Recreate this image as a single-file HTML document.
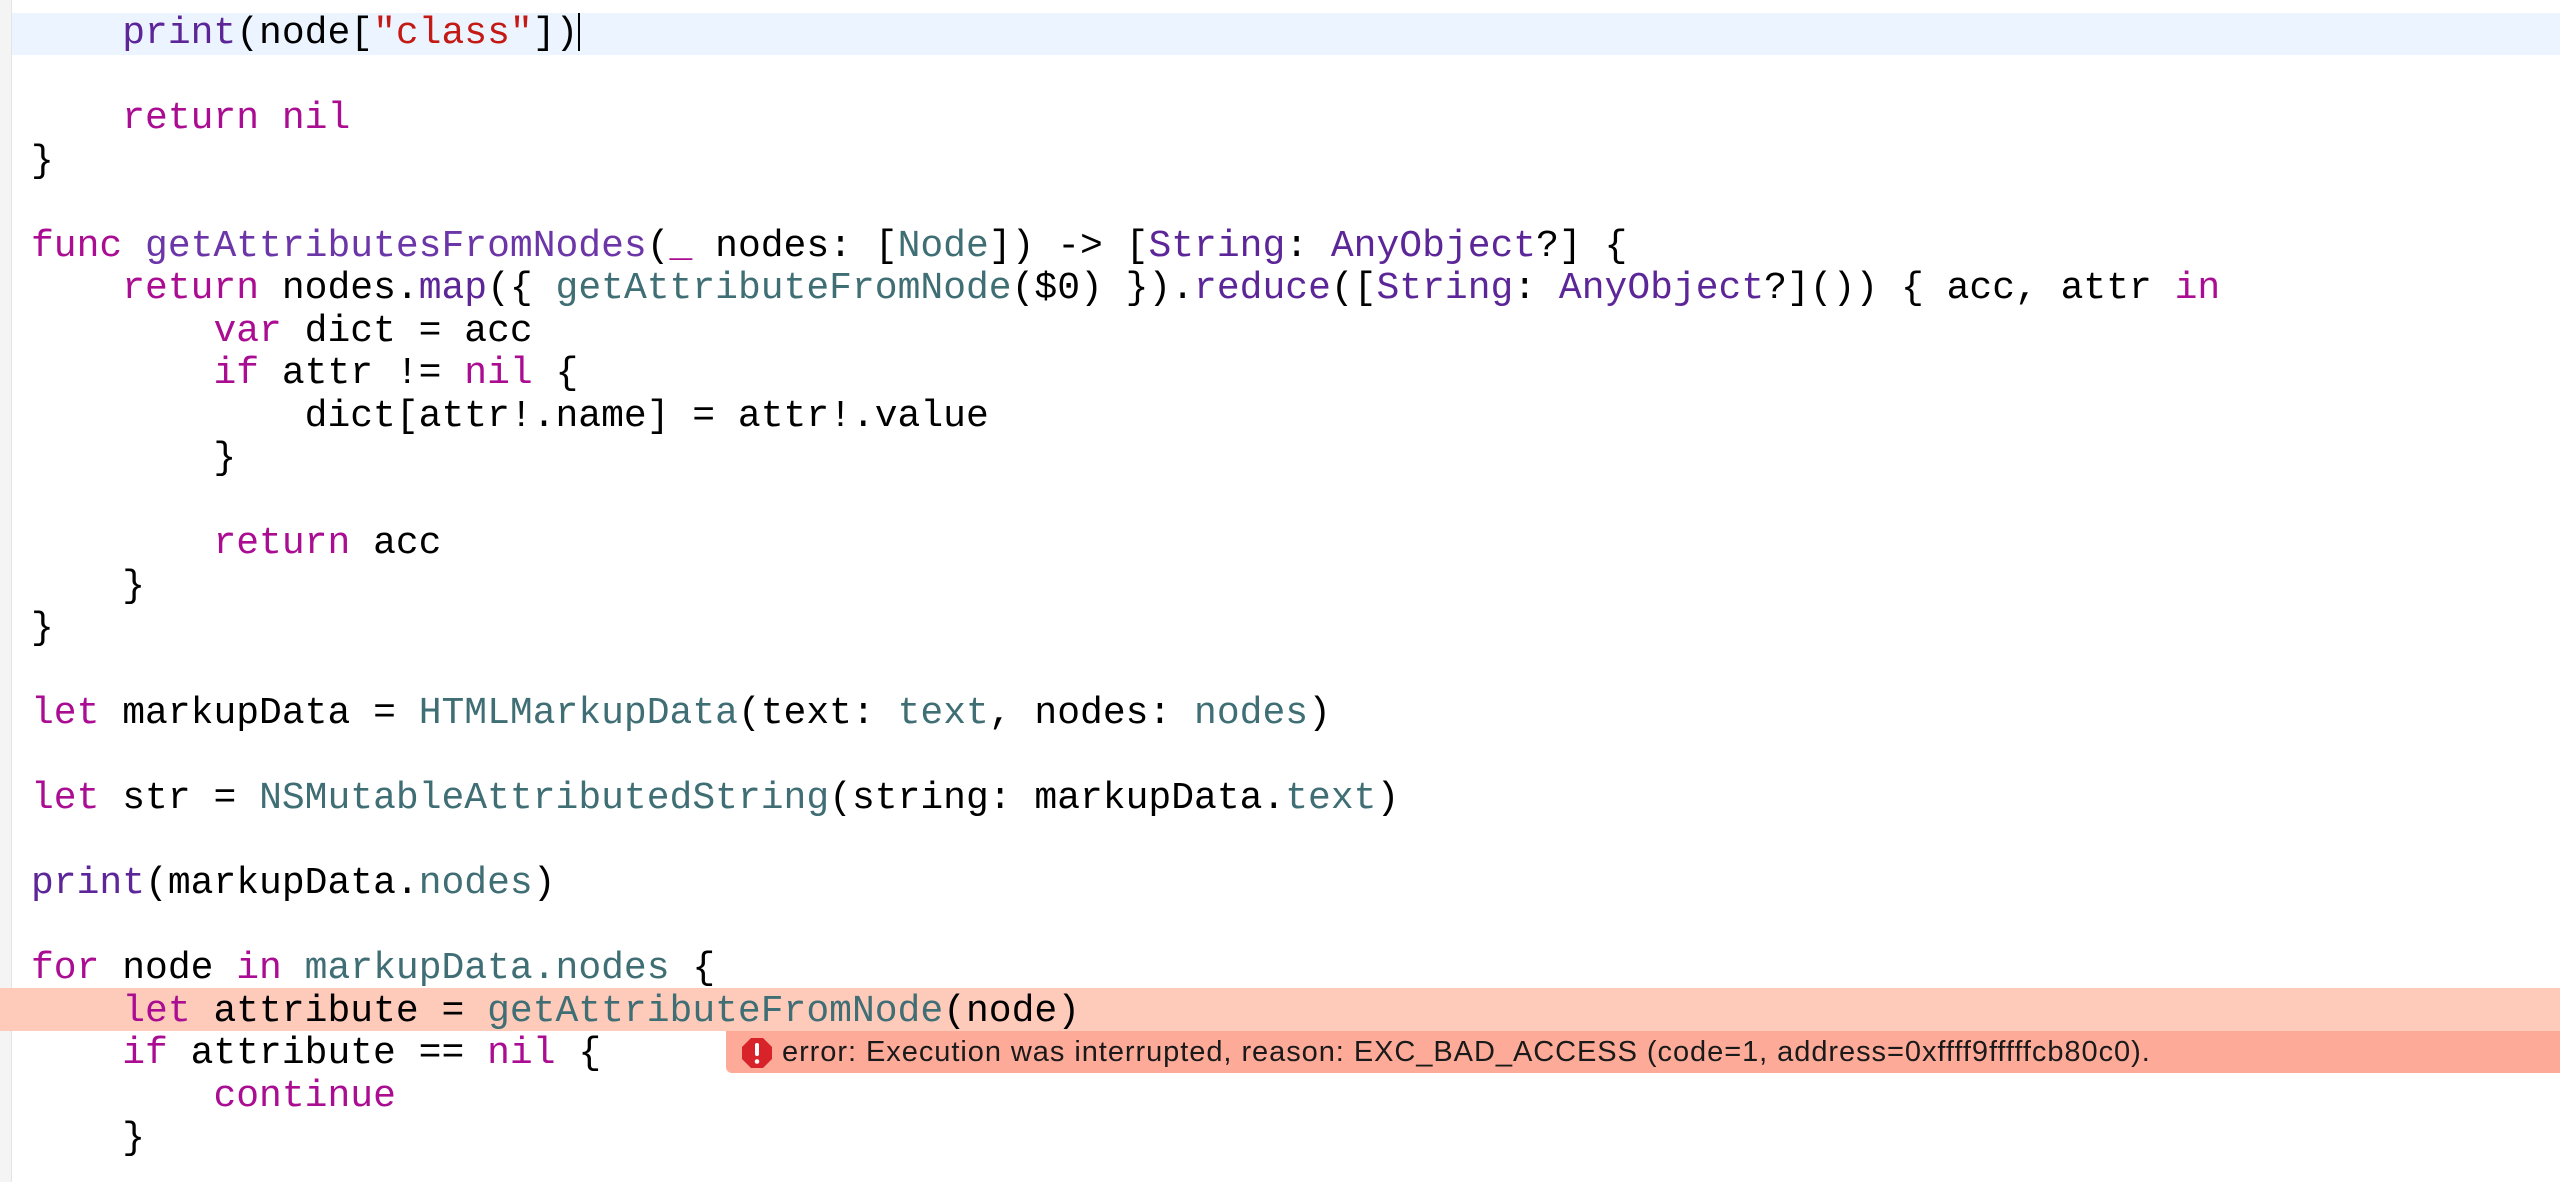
<!DOCTYPE html>
<html><head><meta charset="utf-8"><style>
html,body{margin:0;padding:0;width:2560px;height:1182px;overflow:hidden;background:#fff;position:relative}
.gut{position:absolute;left:0;top:0;width:11px;height:1182px;background:#f4f4f4;border-right:1px solid #e4e4e4}
.hl{position:absolute;left:12px;right:0;top:13px;height:42px;background:#ecf5ff}
.err{position:absolute;left:0;right:0;top:988px;height:43px;background:#fecbbb}
.bub{position:absolute;left:726px;right:0;top:1031px;height:42px;background:#fdab98;border-bottom-left-radius:6px}
.code{position:absolute;left:31px;top:13px;font-family:"Liberation Mono",monospace;font-size:38px;line-height:42.5px;white-space:pre;color:#000}
.k{color:#aa0d91}.f{color:#5c2699}.t{color:#3f6e74}.s{color:#c41a16}.p{color:#6c36a9}
.cur{display:inline-block;width:2px;height:38px;background:#000;vertical-align:-8px}
.msg{position:absolute;left:782px;top:1033px;font-family:"Liberation Sans",sans-serif;font-size:29px;letter-spacing:0.95px;line-height:38px;color:#1a1a1a;white-space:pre}
</style></head><body>
<div class="gut"></div>
<div class="hl"></div>
<div class="err"></div>
<div class="bub"></div>
<svg style="position:absolute;left:741px;top:1037px" width="32" height="32" viewBox="0 0 32 32"><polygon points="10,1 22,1 31,10 31,22 22,31 10,31 1,22 1,10" fill="#d8232a"/><rect x="14" y="6" width="4" height="13" rx="2" fill="#fff"/><circle cx="16" cy="24.5" r="2.3" fill="#fff"/></svg>
<div class="msg">error: Execution was interrupted, reason: EXC_BAD_ACCESS (code=1, address=0xffff9fffffcb80c0).</div>
<div class="code">    <span class="f">print</span>(node[<span class="s">"class"</span>])<span class="cur"></span>

    <span class="k">return</span> <span class="k">nil</span>
}

<span class="k">func</span> <span class="p">getAttributesFromNodes</span>(<span class="k">_</span> nodes: [<span class="t">Node</span>]) -&gt; [<span class="f">String</span>: <span class="f">AnyObject</span>?] {
    <span class="k">return</span> nodes.<span class="f">map</span>({ <span class="t">getAttributeFromNode</span>($0) }).<span class="f">reduce</span>([<span class="f">String</span>: <span class="f">AnyObject</span>?]()) { acc, attr <span class="k">in</span>
        <span class="k">var</span> dict = acc
        <span class="k">if</span> attr != <span class="k">nil</span> {
            dict[attr!.name] = attr!.value
        }

        <span class="k">return</span> acc
    }
}

<span class="k">let</span> markupData = <span class="t">HTMLMarkupData</span>(text: <span class="t">text</span>, nodes: <span class="t">nodes</span>)

<span class="k">let</span> str = <span class="t">NSMutableAttributedString</span>(string: markupData.<span class="t">text</span>)

<span class="f">print</span>(markupData.<span class="t">nodes</span>)

<span class="k">for</span> node <span class="k">in</span> <span class="t">markupData.nodes</span> {
    <span class="k">let</span> attribute = <span class="t">getAttributeFromNode</span>(node)
    <span class="k">if</span> attribute == <span class="k">nil</span> {
        <span class="k">continue</span>
    }
</div>
</body></html>
